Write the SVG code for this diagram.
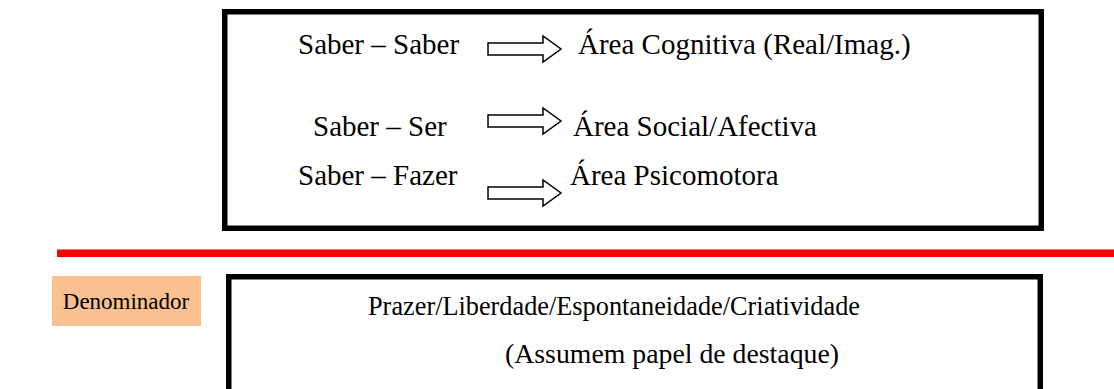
<svg xmlns="http://www.w3.org/2000/svg" width="1114" height="389" viewBox="0 0 1114 389">
<defs>
<style>
.box{fill:#fff;stroke:#000;stroke-width:5.5}
.t{font-family:"Liberation Serif","Times New Roman",serif;fill:#000}
.arr{fill:#fff;stroke:#000;stroke-width:1.5;stroke-linejoin:miter}
</style>
<path id="arrow" d="M0,-6 H55 V-13 L73,0 L55,13 V6 H0 Z"/>
</defs>
<rect width="1114" height="389" fill="#fff"/>
<g id="top-box">
<rect class="box" x="224.75" y="11.75" width="816.5" height="216.5"/>
<text class="t" x="298" y="54" font-size="29">Saber &#8211; Saber</text>
<text class="t" x="578" y="54" font-size="29">&#193;rea Cognitiva (Real/Imag.)</text>
<text class="t" x="313" y="136" font-size="29">Saber &#8211; Ser</text>
<text class="t" x="573" y="136" font-size="29">&#193;rea Social/Afectiva</text>
<text class="t" x="298" y="185" font-size="29">Saber &#8211; Fazer</text>
<text class="t" x="570" y="185" font-size="29">&#193;rea Psicomotora</text>
</g>
<g id="connectors">
<use href="#arrow" class="arr" x="488" y="49"/>
<use href="#arrow" class="arr" x="488" y="121"/>
<use href="#arrow" class="arr" x="488" y="193"/>
</g>
<rect id="red-line" x="57" y="249.5" width="1057" height="7.5" fill="#ff0000"/>
<g id="denominador">
<rect x="52" y="276" width="149" height="50" fill="#FAC090"/>
<text class="t" x="126" y="309" font-size="23" text-anchor="middle">Denominador</text>
</g>
<g id="bottom-box">
<rect class="box" x="228.75" y="276.75" width="811.5" height="140"/>
<text class="t" x="368" y="315" font-size="27" textLength="492" lengthAdjust="spacingAndGlyphs">Prazer/Liberdade/Espontaneidade/Criatividade</text>
<text class="t" x="505" y="363" font-size="27" textLength="334" lengthAdjust="spacingAndGlyphs">(Assumem papel de destaque)</text>
</g>
</svg>
